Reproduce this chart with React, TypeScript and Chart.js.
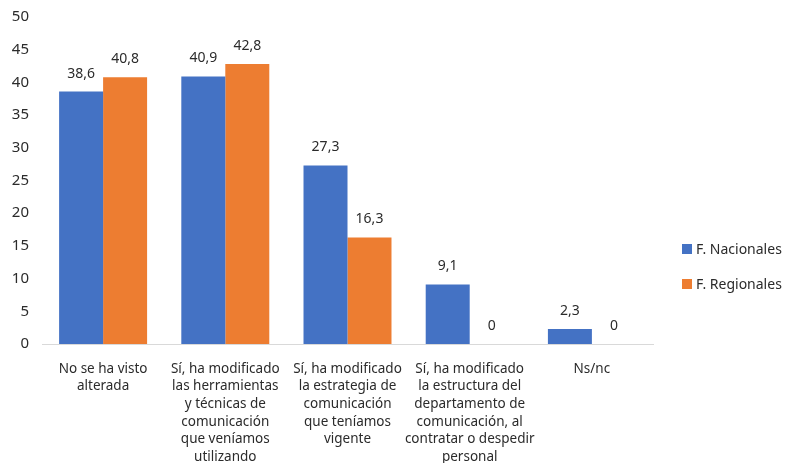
import React, { useEffect, useRef } from "react";
import { Chart, registerables } from "chart.js";

Chart.register(...registerables);

const categories: string[][] = [
  ["No se ha visto", "alterada"],
  ["Sí, ha modificado", "las herramientas", "y técnicas de", "comunicación", "que veníamos", "utilizando"],
  ["Sí, ha modificado", "la estrategia de", "comunicación", "que teníamos", "vigente"],
  ["Sí, ha modificado", "la estructura del", "departamento de", "comunicación, al", "contratar o despedir", "personal"],
  ["Ns/nc"],
];
const seriesNames = ["F. Nacionales", "F. Regionales"];
const nacionales = [38.6, 40.9, 27.3, 9.1, 2.3];
const regionales = [40.8, 42.8, 16.3, 0, 0];
const colors = ["#4472C4", "#ED7D31"];
const yMin = 0;
const yMax = 50;
const yStep = 5;

const FONT = "'Noto Sans', 'Open Sans', sans-serif";
const TEXT = "#2b2b2b";

const valueLabels = {
  id: "valueLabels",
  afterDatasetsDraw(chart: any) {
    const ctx = chart.ctx;
    ctx.save();
    ctx.font = `14px ${FONT}`;
    ctx.fillStyle = TEXT;
    ctx.textAlign = "center";
    ctx.textBaseline = "bottom";
    chart.data.datasets.forEach((ds: any, i: number) => {
      const meta = chart.getDatasetMeta(i);
      meta.data.forEach((el: any, j: number) => {
        const v = ds.data[j];
        ctx.fillText(String(v).replace(".", ","), el.x, el.y - 11);
      });
    });
    ctx.restore();
  },
};

export default function App() {
  const ref = useRef<HTMLCanvasElement>(null);
  useEffect(() => {
    document.body.style.margin = "0";
    const chart = new Chart(ref.current!, {
      type: "bar",
      data: {
        labels: categories,
        datasets: [
          { label: seriesNames[0], data: nacionales, backgroundColor: colors[0], barPercentage: 1, categoryPercentage: 0.72 },
          { label: seriesNames[1], data: regionales, backgroundColor: colors[1], barPercentage: 1, categoryPercentage: 0.72 },
        ],
      },
      options: {
        animation: false,
        responsive: false,
        layout: { padding: { left: 0, top: 17, right: 132, bottom: 0 } },
        plugins: { legend: { display: false }, tooltip: { enabled: false } },
        scales: {
          x: {
            grid: { display: false },
            border: { display: true, color: "#d9d9d9", width: 1 },
            afterFit: (s: any) => { s.height = 119; },
            ticks: {
              color: TEXT,
              font: { family: FONT, size: 13.5, lineHeight: 1.31 },
              maxRotation: 0,
              autoSkip: false,
              padding: 8,
            },
          },
          y: {
            min: yMin,
            max: yMax,
            grid: { display: false },
            border: { display: false },
            afterFit: (s: any) => { s.width = 42; },
            ticks: { stepSize: yStep, color: TEXT, font: { family: FONT, size: 15 }, padding: 5 },
          },
        },
      },
      plugins: [valueLabels],
    });
    return () => chart.destroy();
  }, []);
  return (
    <div style={{ position: "relative", width: 785, height: 463 }}>
      <canvas ref={ref} width={785} height={463} />
      {seriesNames.map((n, i) => (
        <div
          key={n}
          style={{
            position: "absolute",
            left: 682,
            top: 239 + i * 35,
            display: "flex",
            alignItems: "center",
            fontFamily: FONT,
            fontSize: 14,
            color: TEXT,
            whiteSpace: "nowrap",
          }}
        >
          <span style={{ display: "inline-block", width: 10, height: 10, background: colors[i], marginRight: 4 }} />
          {n}
        </div>
      ))}
    </div>
  );
}
